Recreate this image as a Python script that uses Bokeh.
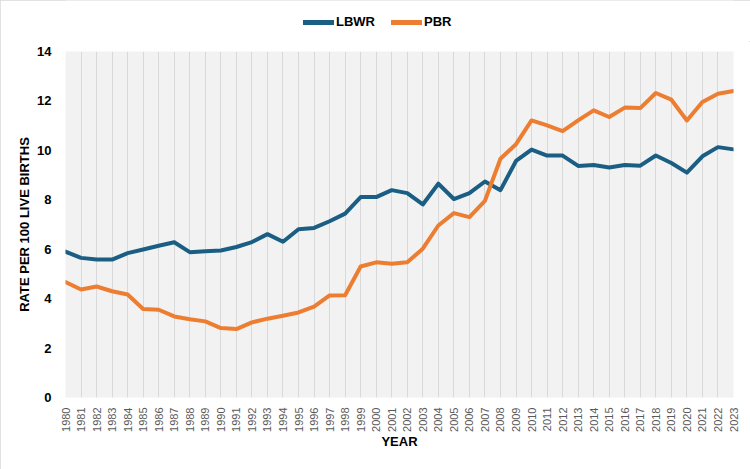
from bokeh.plotting import figure
from bokeh.layouts import column
from bokeh.models import Range1d, FixedTicker, Legend, LegendItem, ColumnDataSource
from bokeh.embed import file_html
from bokeh.resources import INLINE

years = list(range(1980, 2024))

lbwr = [5.90, 5.65, 5.58, 5.58, 5.84, 5.99, 6.14, 6.28, 5.88, 5.92,
        5.95, 6.09, 6.29, 6.61, 6.30, 6.81, 6.86, 7.13, 7.44, 8.11,
        8.11, 8.39, 8.27, 7.81, 8.65, 8.03, 8.27, 8.74, 8.39, 9.57,
        10.03, 9.79, 9.79, 9.37, 9.41, 9.31, 9.41, 9.38, 9.79, 9.49,
        9.10, 9.76, 10.13, 10.04]

pbr = [4.67, 4.37, 4.49, 4.30, 4.17, 3.58, 3.55, 3.28, 3.17, 3.08,
       2.81, 2.77, 3.04, 3.19, 3.31, 3.44, 3.68, 4.13, 4.14, 5.30,
       5.47, 5.41, 5.47, 6.02, 6.96, 7.46, 7.30, 7.96, 9.66, 10.25,
       11.21, 11.01, 10.78, 11.21, 11.62, 11.35, 11.73, 11.71, 12.32, 12.05,
       11.21, 11.96, 12.29, 12.40]

y_ticks = [0, 2, 4, 6, 8, 10, 12, 14]
series_names = ["LBWR", "PBR"]

BLUE = "#1B5E84"
ORANGE = "#ED7D31"
FONT = "Liberation Sans"

# --- legend strip across the top ---
leg = figure(width=750, height=41, output_backend="svg", toolbar_location=None,
             x_axis_type=None, y_axis_type=None,
             x_range=Range1d(0, 1), y_range=Range1d(0, 1), min_border=0)
leg.outline_line_color = None
leg.grid.grid_line_color = None
# off-range stand-in lines that only supply the legend swatches
swatch = ColumnDataSource(dict(x=[-2, -1], y=[-2, -2]))
l1 = leg.line("x", "y", source=swatch, line_color=BLUE, line_width=5, line_cap="round")
l2 = leg.line("x", "y", source=swatch, line_color=ORANGE, line_width=5, line_cap="round")
legend = Legend(items=[LegendItem(label=series_names[0], renderers=[l1]),
                       LegendItem(label=series_names[1], renderers=[l2])],
                orientation="horizontal", location=(238, 12),
                background_fill_alpha=0, border_line_color=None,
                padding=0, margin=0, spacing=16, glyph_width=31,
                glyph_height=14, label_standoff=2,
                label_text_font=FONT, label_text_font_size="13px",
                label_text_font_style="bold", label_text_color="#000000")
leg.add_layout(legend)

# --- main chart ---
src = ColumnDataSource(dict(year=years, lbwr=lbwr, pbr=pbr))

p = figure(width=750, height=428, output_backend="svg", toolbar_location=None,
           x_range=Range1d(1980, 2023), y_range=Range1d(0, 14))
p.min_border_left = 65
p.min_border_right = 17
p.min_border_top = 10
p.min_border_bottom = 72
p.background_fill_color = "#F2F2F2"
p.border_fill_color = "white"
p.outline_line_color = None

# vertical gridlines at every year, no horizontal ones
p.xgrid.ticker = FixedTicker(ticks=years)
p.xgrid.grid_line_color = "#D9D9D9"
p.xgrid.grid_line_width = 1
p.ygrid.grid_line_color = None

p.xaxis.ticker = FixedTicker(ticks=years)
p.xaxis.major_label_orientation = 1.5708
p.xaxis.major_label_text_font = FONT
p.xaxis.major_label_text_font_size = "11px"
p.xaxis.major_label_text_color = "#595959"
p.xaxis.axis_label = "YEAR"

p.yaxis.ticker = FixedTicker(ticks=y_ticks)
p.yaxis.major_label_text_font = FONT
p.yaxis.major_label_text_font_size = "13px"
p.yaxis.major_label_text_font_style = "bold"
p.yaxis.major_label_text_color = "#000000"
p.yaxis.axis_label = "RATE PER 100 LIVE BIRTHS"

for ax in (p.xaxis[0], p.yaxis[0]):
    ax.axis_line_color = None
    ax.major_tick_line_color = None
    ax.minor_tick_line_color = None
    ax.axis_label_text_font = FONT
    ax.axis_label_text_font_size = "13px"
    ax.axis_label_text_font_style = "bold"
    ax.axis_label_text_color = "#000000"
    ax.major_label_standoff = 4
p.xaxis.axis_label_standoff = -1
p.yaxis.axis_label_standoff = 2
p.yaxis.major_label_standoff = 8

p.line("year", "lbwr", source=src, line_color=BLUE, line_width=4,
       line_join="round", line_cap="round")
p.line("year", "pbr", source=src, line_color=ORANGE, line_width=4,
       line_join="round", line_cap="round")

layout = column(leg, p, spacing=0)
layout.styles = {"outline": "1px solid #D9D9D9", "outline-offset": "-1px"}

open("out.html", "w").write(file_html(layout, INLINE))
